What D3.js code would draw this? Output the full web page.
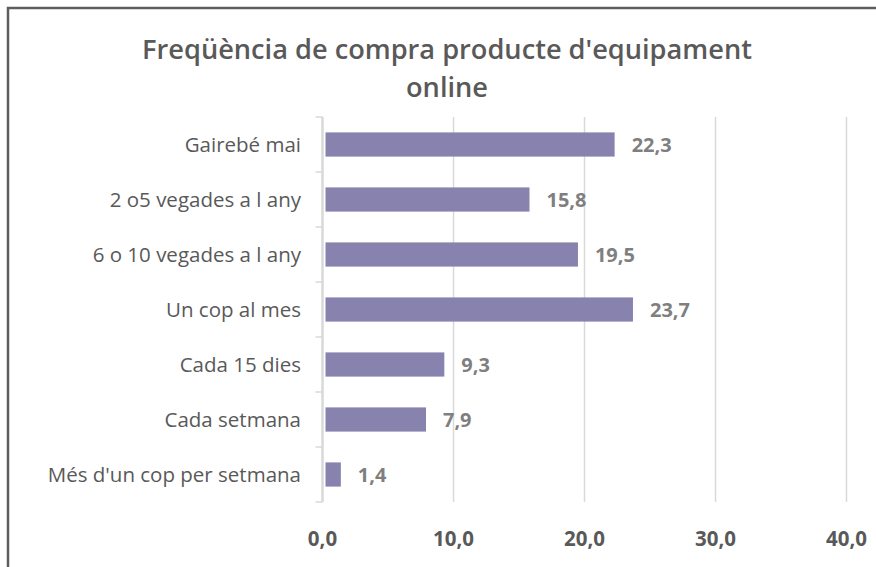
<!DOCTYPE html>
<html>
<head>
<meta charset="utf-8">
<script src="https://cdn.jsdelivr.net/npm/d3@7"></script>
<style>
  body { margin: 0; background: #fff; }
  svg text { font-family: "Open Sans", "DejaVu Sans", sans-serif; }
</style>
</head>
<body>
<div id="chart"></div>
<script>
const categories = [
    "Gairebé mai",
    "2 o5 vegades a l any",
    "6 o 10 vegades a l any",
    "Un cop al mes",
    "Cada 15 dies",
    "Cada setmana",
    "Més d'un cop per setmana"
];
const values = [22.3, 15.8, 19.5, 23.7, 9.3, 7.9, 1.4];
const xTicks = [0, 10, 20, 30, 40];
const titleLines = ["Freqüència de compra producte d'equipament", "online"];

const W = 876, H = 567;
const margin = { top: 117, right: 30, bottom: 65, left: 322.5 };
const width = 846.5 - margin.left;
const height = 502 - margin.top;

const fmt = v => d3.format(".1f")(v).replace(".", ",");

const svg = d3.select("#chart")
    .append("svg")
    .attr("width", W)
    .attr("height", H);

svg.append("rect")
    .attr("width", W).attr("height", H)
    .attr("fill", "#fff");

// outer frame (only top and left visible)
svg.append("rect")
    .attr("x", 8).attr("y", 8)
    .attr("width", W + 20).attr("height", H + 20)
    .attr("fill", "none")
    .attr("stroke", "#5e5e5e")
    .attr("stroke-width", 2.5);

// title
svg.append("g")
    .selectAll("text")
    .data(titleLines)
    .enter()
    .append("text")
    .attr("x", 447)
    .attr("y", (d, i) => 59 + i * 38)
    .attr("text-anchor", "middle")
    .attr("font-size", "27.2px")
    .attr("font-weight", 600)
    .attr("fill", "#595959")
    .text(d => d);

const g = svg.append("g")
    .attr("transform", "translate(" + margin.left + "," + margin.top + ")");

const x = d3.scaleLinear()
    .domain([0, 40])
    .range([0, width]);

const y = d3.scaleBand()
    .domain(categories)
    .range([0, height])
    .paddingInner(0.56)
    .paddingOuter(0.28);

// vertical gridlines
g.append("g")
    .selectAll("line")
    .data(xTicks.slice(1))
    .enter()
    .append("line")
    .attr("x1", d => x(d)).attr("x2", d => x(d))
    .attr("y1", 0).attr("y2", height)
    .attr("stroke", "#d9d9d9")
    .attr("stroke-width", 1.5);

// x tick labels
g.append("g")
    .selectAll("text")
    .data(xTicks)
    .enter()
    .append("text")
    .attr("x", d => x(d))
    .attr("y", height + 44)
    .attr("text-anchor", "middle")
    .attr("font-size", "20.5px")
    .attr("font-weight", 700)
    .attr("fill", "#595959")
    .text(d => fmt(d));

// category axis line + tick marks at band boundaries
const bounds = d3.range(categories.length + 1).map(i => i * height / categories.length);
g.append("line")
    .attr("x1", 0).attr("x2", 0)
    .attr("y1", 0).attr("y2", height)
    .attr("stroke", "#d9d9d9")
    .attr("stroke-width", 2.5);
g.append("g")
    .selectAll("line")
    .data(bounds)
    .enter()
    .append("line")
    .attr("x1", -7).attr("x2", 0)
    .attr("y1", d => d).attr("y2", d => d)
    .attr("stroke", "#d9d9d9")
    .attr("stroke-width", 1.5);

// category labels
g.append("g")
    .selectAll("text")
    .data(categories)
    .enter()
    .append("text")
    .attr("x", -21.5)
    .attr("y", d => y(d) + y.bandwidth() / 2)
    .attr("dy", "0.35em")
    .attr("text-anchor", "end")
    .attr("font-size", "20.5px")
    .attr("fill", "#595959")
    .text(d => d);

// bars (start just right of the axis line)
const bars = g.selectAll(".bar")
    .data(values)
    .enter()
    .append("g")
    .attr("class", "bar");

bars.append("rect")
    .attr("x", 3)
    .attr("y", (d, i) => y(categories[i]))
    .attr("width", d => x(d) - 3)
    .attr("height", y.bandwidth())
    .attr("fill", "#8783ae");

bars.append("text")
    .attr("x", d => x(d) + 17)
    .attr("y", (d, i) => y(categories[i]) + y.bandwidth() / 2)
    .attr("dy", "0.35em")
    .attr("font-size", "20px")
    .attr("font-weight", 700)
    .attr("fill", "#7f7f7f")
    .text(d => fmt(d));
</script>
</body>
</html>
